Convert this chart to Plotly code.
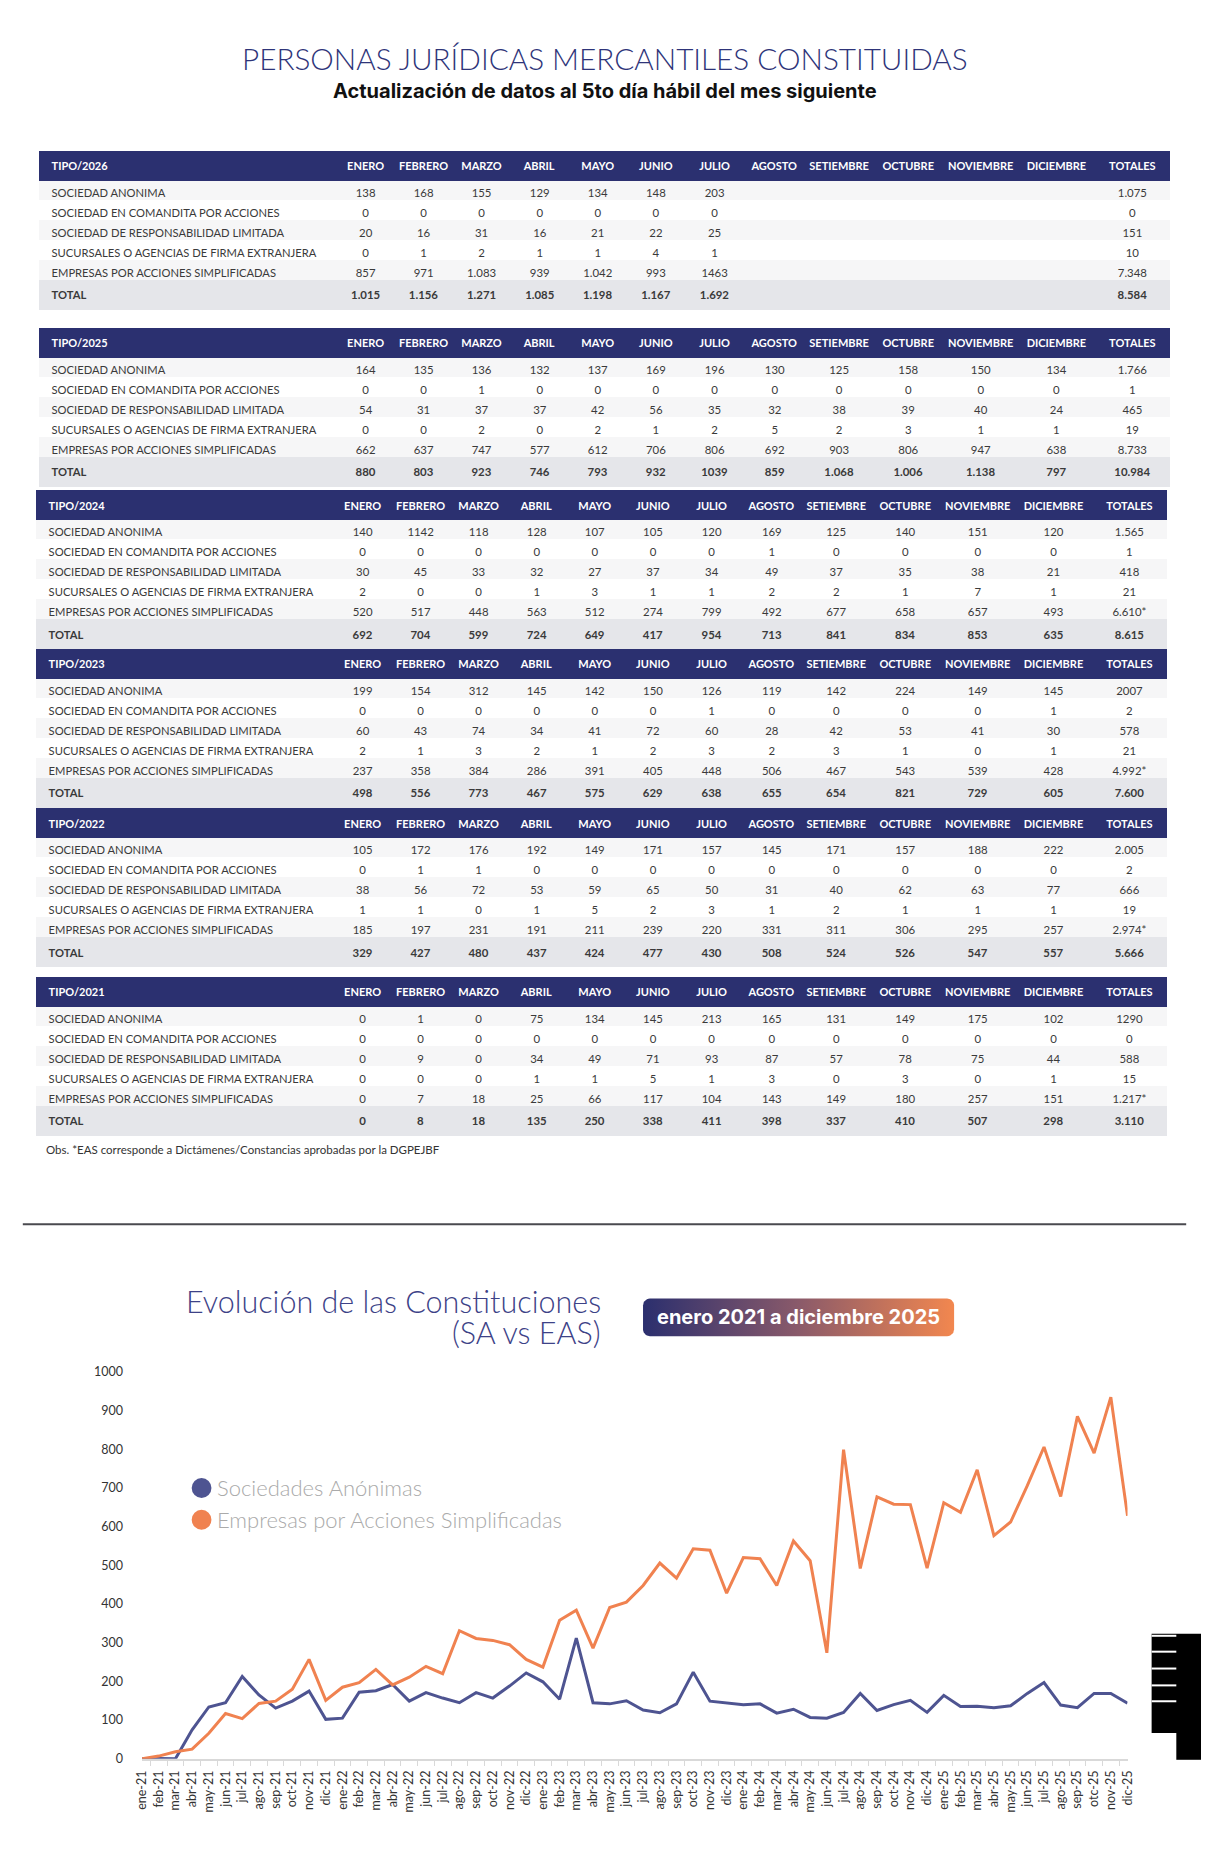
#### Personas jurídicas mercantiles constituidas: tablas por año + evolución SA vs EAS

import numpy as np
import plotly.graph_objects as go

W, H = 1208, 1864
NAVY = "#2b3070"
SA_COLOR = "#4e5491"
EAS_COLOR = "#f08250"
FONT = "Lato"

# ---- datos de las tablas ----
meses_cols = ["ENERO", "FEBRERO", "MARZO", "ABRIL", "MAYO", "JUNIO", "JULIO",
              "AGOSTO", "SETIEMBRE", "OCTUBRE", "NOVIEMBRE", "DICIEMBRE", "TOTALES"]
tipos = ["SOCIEDAD ANONIMA", "SOCIEDAD EN COMANDITA POR ACCIONES",
         "SOCIEDAD DE RESPONSABILIDAD LIMITADA", "SUCURSALES O AGENCIAS DE FIRMA EXTRANJERA",
         "EMPRESAS POR ACCIONES SIMPLIFICADAS", "TOTAL"]

tabla_2026 = [
    ["138", "168", "155", "129", "134", "148", "203", "", "", "", "", "", "1.075"],
    ["0", "0", "0", "0", "0", "0", "0", "", "", "", "", "", "0"],
    ["20", "16", "31", "16", "21", "22", "25", "", "", "", "", "", "151"],
    ["0", "1", "2", "1", "1", "4", "1", "", "", "", "", "", "10"],
    ["857", "971", "1.083", "939", "1.042", "993", "1463", "", "", "", "", "", "7.348"],
    ["1.015", "1.156", "1.271", "1.085", "1.198", "1.167", "1.692", "", "", "", "", "", "8.584"],
]
tabla_2025 = [
    ["164", "135", "136", "132", "137", "169", "196", "130", "125", "158", "150", "134", "1.766"],
    ["0", "0", "1", "0", "0", "0", "0", "0", "0", "0", "0", "0", "1"],
    ["54", "31", "37", "37", "42", "56", "35", "32", "38", "39", "40", "24", "465"],
    ["0", "0", "2", "0", "2", "1", "2", "5", "2", "3", "1", "1", "19"],
    ["662", "637", "747", "577", "612", "706", "806", "692", "903", "806", "947", "638", "8.733"],
    ["880", "803", "923", "746", "793", "932", "1039", "859", "1.068", "1.006", "1.138", "797", "10.984"],
]
tabla_2024 = [
    ["140", "1142", "118", "128", "107", "105", "120", "169", "125", "140", "151", "120", "1.565"],
    ["0", "0", "0", "0", "0", "0", "0", "1", "0", "0", "0", "0", "1"],
    ["30", "45", "33", "32", "27", "37", "34", "49", "37", "35", "38", "21", "418"],
    ["2", "0", "0", "1", "3", "1", "1", "2", "2", "1", "7", "1", "21"],
    ["520", "517", "448", "563", "512", "274", "799", "492", "677", "658", "657", "493", "6.610*"],
    ["692", "704", "599", "724", "649", "417", "954", "713", "841", "834", "853", "635", "8.615"],
]
tabla_2023 = [
    ["199", "154", "312", "145", "142", "150", "126", "119", "142", "224", "149", "145", "2007"],
    ["0", "0", "0", "0", "0", "0", "1", "0", "0", "0", "0", "1", "2"],
    ["60", "43", "74", "34", "41", "72", "60", "28", "42", "53", "41", "30", "578"],
    ["2", "1", "3", "2", "1", "2", "3", "2", "3", "1", "0", "1", "21"],
    ["237", "358", "384", "286", "391", "405", "448", "506", "467", "543", "539", "428", "4.992*"],
    ["498", "556", "773", "467", "575", "629", "638", "655", "654", "821", "729", "605", "7.600"],
]
tabla_2022 = [
    ["105", "172", "176", "192", "149", "171", "157", "145", "171", "157", "188", "222", "2.005"],
    ["0", "1", "1", "0", "0", "0", "0", "0", "0", "0", "0", "0", "2"],
    ["38", "56", "72", "53", "59", "65", "50", "31", "40", "62", "63", "77", "666"],
    ["1", "1", "0", "1", "5", "2", "3", "1", "2", "1", "1", "1", "19"],
    ["185", "197", "231", "191", "211", "239", "220", "331", "311", "306", "295", "257", "2.974*"],
    ["329", "427", "480", "437", "424", "477", "430", "508", "524", "526", "547", "557", "5.666"],
]
tabla_2021 = [
    ["0", "1", "0", "75", "134", "145", "213", "165", "131", "149", "175", "102", "1290"],
    ["0", "0", "0", "0", "0", "0", "0", "0", "0", "0", "0", "0", "0"],
    ["0", "9", "0", "34", "49", "71", "93", "87", "57", "78", "75", "44", "588"],
    ["0", "0", "0", "1", "1", "5", "1", "3", "0", "3", "0", "1", "15"],
    ["0", "7", "18", "25", "66", "117", "104", "143", "149", "180", "257", "151", "1.217*"],
    ["0", "8", "18", "135", "250", "338", "411", "398", "337", "410", "507", "298", "3.110"],
]

# ---- datos del gráfico ----
meses_abr = ["ene", "feb", "mar", "abr", "may", "jun", "jul", "ago", "sep", "oct", "nov", "dic"]
etiquetas_2025 = ["ene-25", "feb-25", "mar-25", "abr-25", "may-25", "jun-25",
                  "jul-25", "ago-25", "sep-25", "otc-25", "nov-25", "dic-25"]
sa_2021 = [0, 1, 0, 75, 134, 145, 213, 165, 131, 149, 175, 102]
sa_2022 = [105, 172, 176, 192, 149, 171, 157, 145, 171, 157, 188, 222]
sa_2023 = [199, 154, 312, 145, 142, 150, 126, 119, 142, 224, 149, 145]
sa_2024 = [140, 142, 118, 128, 107, 105, 120, 169, 125, 140, 151, 120]
sa_2025 = [164, 135, 136, 132, 137, 169, 197, 139, 132, 169, 169, 144]
eas_2021 = [0, 7, 18, 25, 66, 117, 104, 143, 149, 180, 257, 151]
eas_2022 = [185, 197, 231, 191, 211, 239, 220, 331, 311, 306, 295, 257]
eas_2023 = [237, 358, 384, 286, 391, 405, 448, 506, 467, 543, 539, 428]
eas_2024 = [520, 517, 448, 563, 512, 274, 799, 492, 677, 658, 657, 493]
eas_2025 = [662, 637, 747, 577, 612, 706, 806, 678, 885, 790, 935, 628]

etiquetas = [f"{m}-{a}" for a in ["21", "22", "23", "24"] for m in meses_abr] + etiquetas_2025
sa = sa_2021 + sa_2022 + sa_2023 + sa_2024 + sa_2025
eas = eas_2021 + eas_2022 + eas_2023 + eas_2024 + eas_2025

fig = go.Figure()

# ---- tablas ----
col_widths = [4, 297, 59, 58.5, 59, 59, 58.5, 59.5, 59.5, 62.5, 68, 72, 75, 78.5, 75.5]
row_fill = ["#f6f6f7", "#ffffff", "#f6f6f7", "#ffffff", "#f6f6f7", "#e5e6ea"]
NBSP = "\u00a0"


def add_tabla(anio, datos, top, ajuste, x0, x1):
    header = ["", f"<b>TIPO/{anio}</b>"] + [f"<b>{m}</b>" for m in meses_cols]
    # espacios duros para que las etiquetas no se partan en dos líneas
    etiquetas_filas = [t.replace(" ", NBSP) for t in tipos[:5]] + ["<b>TOTAL</b>"]
    cols = [[""] * 6, etiquetas_filas]
    for j in range(len(meses_cols)):
        col = [fila[j] for fila in datos]
        if col[5]:
            col[5] = f"<b>{col[5]}</b>"
        cols.append(col)
    t0 = top - 4 - ajuste  # ajuste para que las filas caigan donde en el original
    fig.add_trace(go.Table(
        domain=dict(x=[x0 / W, x1 / W], y=[1 - (t0 + 170) / H, 1 - t0 / H]),
        columnwidth=col_widths,
        header=dict(values=header, fill_color=NAVY, line_color=NAVY, height=24,
                    align=["left", "left"] + ["center"] * 13,
                    font=dict(family=FONT, size=11, color="white")),
        cells=dict(values=cols, fill_color=[row_fill] * 15, line=dict(color=[row_fill] * 15, width=1),
                   height=20, align=["left", "left"] + ["center"] * 13,
                   font=dict(family=FONT, size=[11, 11.2] + [11.4] * 13, color="#3a3a3a")),
    ))


add_tabla(2026, tabla_2026, 158, 9.5, 32, 1177)
add_tabla(2025, tabla_2025, 334, 7, 32, 1177)
add_tabla(2024, tabla_2024, 497, 6.5, 29, 1174)
add_tabla(2023, tabla_2023, 656, 5.5, 29, 1174)
add_tabla(2022, tabla_2022, 816, 5, 29, 1174)
add_tabla(2021, tabla_2021, 984, 3, 29, 1174)

# ---- gráfico de líneas ----
fig.add_trace(go.Scatter(x=etiquetas, y=sa, mode="lines", name="Sociedades Anónimas",
                         line=dict(color=SA_COLOR, width=3), showlegend=False))
fig.add_trace(go.Scatter(x=etiquetas, y=eas, mode="lines", name="Empresas por Acciones Simplificadas",
                         line=dict(color=EAS_COLOR, width=3), showlegend=False))

# recuadro con degradado (capa de decoración en coordenadas de página)
r, bx0, bx1, by0, by1 = 7, 643, 958, 1301, 1339
px, py = [], []
for cx, cy, a0 in [(bx1 - r, by0 + r, -90), (bx1 - r, by1 - r, 0), (bx0 + r, by1 - r, 90), (bx0 + r, by0 + r, 180)]:
    t = np.radians(np.linspace(a0, a0 + 90, 8))
    px += list(cx + r * np.cos(t))
    py += list(cy + r * np.sin(t))
fig.add_trace(go.Scatter(x=px, y=py, xaxis="x2", yaxis="y2", mode="lines", fill="toself",
                         line=dict(width=0), hoverinfo="skip", showlegend=False,
                         fillgradient=dict(type="horizontal",
                                           colorscale=[[0, "#2b2f6e"], [0.5, "#8a5a6a"], [1, "#f2874f"]])))

shapes = [
    dict(type="line", x0=15, x1=1193, y0=1226, y1=1226, line=dict(color="#4a4a4f", width=2)),
    dict(type="circle", x0=186, x1=206, y0=1482, y1=1502, fillcolor=SA_COLOR, line_width=0),
    dict(type="circle", x0=186, x1=206, y0=1514, y1=1534, fillcolor=EAS_COLOR, line_width=0),
    dict(type="rect", x0=1158, x1=1210, y0=1639, y1=1739, fillcolor="black", line_width=0),
    dict(type="rect", x0=1183, x1=1210, y0=1739, y1=1766, fillcolor="black", line_width=0),
]
for yy in [1641, 1657, 1674, 1691, 1707]:
    shapes.append(dict(type="line", x0=1158, x1=1183, y0=yy, y1=yy, line=dict(color="white", width=2)))
for s in shapes:
    s.update(xref="x2", yref="y2", layer="above")

annotations = [
    dict(x=605, y=51, text="PERSONAS JURÍDICAS MERCANTILES CONSTITUIDAS",
         font=dict(family=FONT, size=29.7, color="#2e3479", weight=300)),
    dict(x=605, y=84, text="<b>Actualización de datos al 5to día hábil del mes siguiente</b>",
         font=dict(family="Inter", size=20, color="#111111", weight=900)),
    dict(x=36, y=1151, xanchor="left", text="Obs. *EAS corresponde a Dictámenes/Constancias aprobadas por la DGPEJBF",
         font=dict(family=FONT, size=11.5, color="#333333")),
    dict(x=602, y=1303, xanchor="right", text="Evolución de las Constituciones",
         font=dict(family=FONT, size=30.5, color="#3d4287", weight=300)),
    dict(x=602, y=1335, xanchor="right", text="(SA vs EAS)",
         font=dict(family=FONT, size=30.5, color="#3d4287", weight=300)),
    dict(x=800, y=1320, text="<b>enero 2021 a diciembre 2025</b>",
         font=dict(family="Inter", size=20, color="white", weight=900)),
    dict(x=210, y=1492, xanchor="left", text="Sociedades Anónimas",
         font=dict(family=FONT, size=22, color="#aaaaaa", weight=300)),
    dict(x=210, y=1524, xanchor="left", text="Empresas por Acciones Simplificadas",
         font=dict(family=FONT, size=22, color="#aaaaaa", weight=300)),
]
for a in annotations:
    a.update(xref="x2", yref="y2", showarrow=False)
    a.setdefault("xanchor", "center")
    a.setdefault("yanchor", "middle")

fig.update_layout(
    width=W, height=H,
    margin=dict(l=0, r=0, t=0, b=0),
    paper_bgcolor="white", plot_bgcolor="rgba(0,0,0,0)",
    font=dict(family=FONT, color="#333333"),
    showlegend=False,
    xaxis=dict(type="category", domain=[135.7 / W, 1133.6 / W], anchor="y",
               tickson="boundaries", ticks="outside", ticklen=5, tickcolor="#d9d9d9",
               showline=True, linecolor="#d9d9d9", linewidth=1.5, showgrid=False, zeroline=False,
               tickangle=-90, ticklabelstandoff=5, tickfont=dict(size=12.5, color="#333333")),
    yaxis=dict(range=[0, 1000], domain=[1 - 1765 / H, 1 - 1375 / H], anchor="x",
               tickvals=list(range(0, 1001, 100)), showgrid=False, zeroline=False, showline=False,
               ticklabelstandoff=18, tickfont=dict(size=12.5, color="#333333")),
    xaxis2=dict(domain=[0, 1], range=[0, W], anchor="y2", visible=False, fixedrange=True),
    yaxis2=dict(domain=[0, 1], range=[H, 0], anchor="x2", visible=False, fixedrange=True),
    shapes=shapes,
    annotations=annotations,
)

# sin margen del body para que la página mida exactamente 1208 x 1864
fig.write_html("out.html", config={"displayModeBar": False},
               post_script="document.body.style.margin='0';")
